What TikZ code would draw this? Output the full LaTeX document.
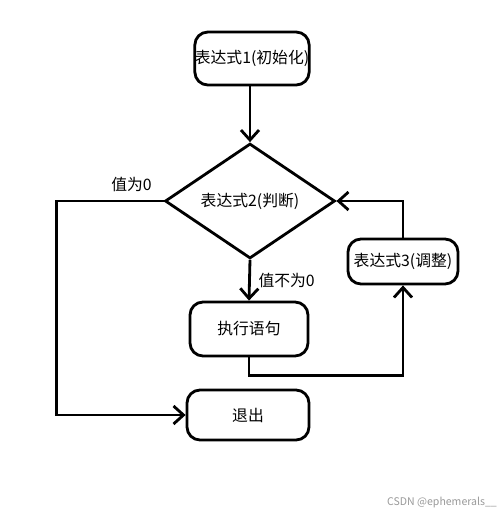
\documentclass[tikz,border=0pt]{standalone}
\usepackage{fontspec}
\newfontfamily\cjk{Noto Sans CJK SC}
\usetikzlibrary{arrows.meta,shapes.geometric}

\begin{document}
\begin{tikzpicture}[x=0.02cm,y=-0.02cm,
  font=\cjk\fontsize{9}{11}\selectfont,
  line width=1.6pt,
  box/.style={draw,rounded corners=0.26cm,inner sep=0pt},
  test/.style={draw,diamond,inner sep=0pt,minimum width=3.4cm,minimum height=1.84cm},
  arr/.style={-{Straight Barb[length=0.2cm,width=0.36cm,line width=1.6pt]}}]
  \useasboundingbox (0,0) rectangle (500,515);
  \node[box,minimum width=2.22cm,minimum height=1.06cm] (init) at (252,58.5) {表达式1(初始化)};
  \node[test] (cond) at (250,201) {表达式2(判断)};
  \node[box,minimum width=2.36cm,minimum height=1.08cm] (body) at (249,329) {执行语句};
  \node[box,minimum width=2.2cm,minimum height=0.9cm] (adj) at (403,261.5) {表达式3(调整)};
  \node[box,minimum width=2.44cm,minimum height=1.0cm] (quit) at (248,415) {退出};
  \draw[arr] (init.south -| cond.north) -- (cond.north);
  \draw[arr] (cond.west) -- node[above=1pt,pos=0.3] {值为0} ++(-107,0) |- (quit.west);
  \draw[arr] (cond.south) -- node[right=1pt] {值不为0} (body.north);
  \draw[arr] (body.south) -- ++(0,18) -| (adj.south);
  \draw[arr] (adj.north) |- (cond.east);
  \node[text=black!40,font=\cjk\fontsize{6}{7}\selectfont,inner sep=0pt] (mark) at (442,503) {CSDN @ephemerals\_\_};
\end{tikzpicture}
\end{document}
